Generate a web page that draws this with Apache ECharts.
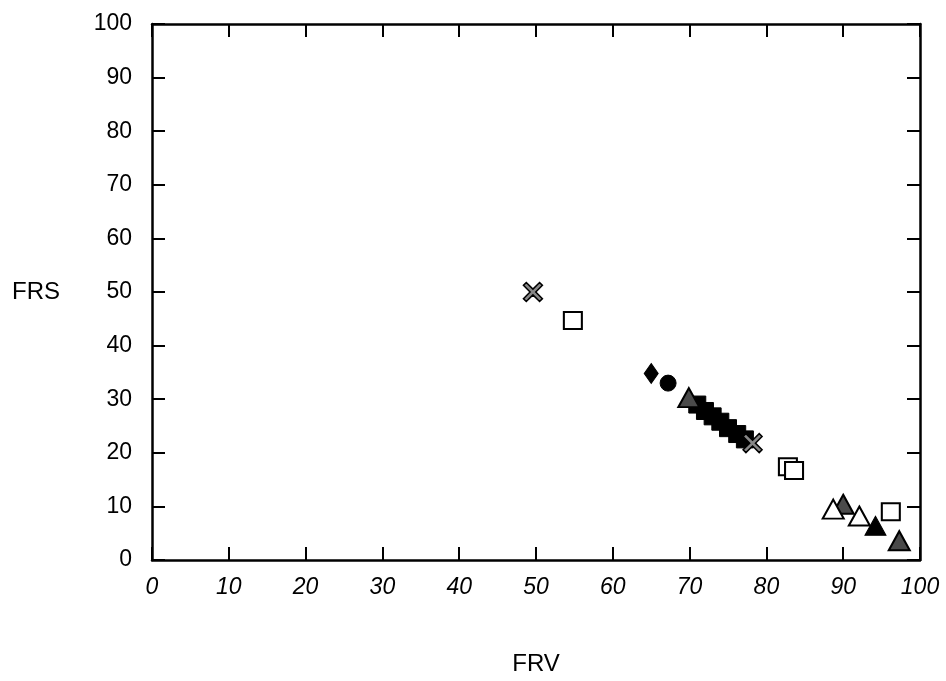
<!DOCTYPE html>
<html>
<head>
<meta charset="utf-8">
<script src="https://cdn.jsdelivr.net/npm/echarts@6/dist/echarts.min.js"></script>
<style>html,body{margin:0;padding:0;background:#fff}#c{width:946px;height:681px}</style>
</head>
<body>
<div id="c"></div>
<script>
// Data (FRV, FRS)
const crossPts = [[49.6, 50.0], [78.2, 21.8]];
const openSquarePts = [[54.8, 44.7], [82.8, 17.4], [83.6, 16.7], [96.2, 9.0]];
const filledDiamondPts = [[65.0, 34.8]];
const filledCirclePts = [[67.2, 33.0]];
const hatchedTrianglePts = [[69.9, 30.3], [90.0, 10.4], [97.3, 3.6]];
const filledSquarePts = [[71.0, 29.0], [72.0, 27.8], [73.0, 26.8], [74.0, 25.8], [75.0, 24.6], [76.2, 23.5], [77.2, 22.5]];
const openTrianglePts = [[88.7, 9.5], [92.1, 8.2]];
const filledTrianglePts = [[94.2, 6.4]];
const xTicks = [0, 10, 20, 30, 40, 50, 60, 70, 80, 90, 100];
const yTicks = [0, 10, 20, 30, 40, 50, 60, 70, 80, 90, 100];
const xName = 'FRV';
const yName = 'FRS';

const FONT = 'Liberation Sans, Arial, sans-serif';
const chart = echarts.init(document.getElementById('c'), null, {renderer: 'canvas'});

const axisCommon = {
  min: xTicks[0], max: xTicks[xTicks.length - 1], interval: 10,
  axisLine: {show: true, onZero: false, lineStyle: {color: '#000', width: 2.5}},
  axisTick: {show: true, inside: true, length: 13, lineStyle: {color: '#000', width: 2}},
  splitLine: {show: false}
};

const crossPath = 'path://M3,0 L10,7 L17,0 L20,3 L13,10 L20,17 L17,20 L10,13 L3,20 L0,17 L7,10 L0,3 Z';

function sc(name, data, symbol, size, fill, stroke, bw) {
  return {
    name, type: 'scatter', data, symbol, symbolSize: size,
    itemStyle: {color: fill, borderColor: stroke, borderWidth: bw, opacity: 1},
    emphasis: {disabled: true}, z: 3
  };
}

chart.setOption({
  animation: false,
  backgroundColor: '#fff',
  textStyle: {fontFamily: FONT, color: '#000'},
  grid: {left: 152, right: 26, top: 24, bottom: 118},
  xAxis: [
    Object.assign({}, axisCommon, {
      type: 'value', position: 'bottom',
      name: xName, nameLocation: 'middle', nameGap: 92,
      nameTextStyle: {fontSize: 24, color: '#000', fontFamily: FONT},
      axisLabel: {show: true, fontSize: 23, fontStyle: 'italic', color: '#000', margin: 16, fontFamily: FONT,
        formatter: v => xTicks.includes(v) ? String(v) : ''}
    }),
    Object.assign({}, axisCommon, {
      type: 'value', position: 'top', axisLabel: {show: false}
    })
  ],
  yAxis: [
    Object.assign({}, axisCommon, {
      type: 'value', position: 'left', min: yTicks[0], max: yTicks[yTicks.length - 1],
      name: yName, nameLocation: 'middle', nameRotate: 0, nameGap: 92,
      nameTextStyle: {fontSize: 24, color: '#000', fontFamily: FONT},
      axisLabel: {show: true, fontSize: 23, color: '#000', margin: 20, fontFamily: FONT,
        formatter: v => yTicks.includes(v) ? String(v) : ''}
    }),
    Object.assign({}, axisCommon, {
      type: 'value', position: 'right', min: yTicks[0], max: yTicks[yTicks.length - 1], axisLabel: {show: false}
    })
  ],
  series: [
    sc('filledSquare', filledSquarePts, 'rect', [17, 17], '#000', '#000', 1),
    sc('filledDiamond', filledDiamondPts, 'diamond', [14, 20], '#000', '#000', 1),
    sc('filledCircle', filledCirclePts, 'circle', 16, '#000', '#000', 1),
    sc('hatchedTriangle', hatchedTrianglePts, 'triangle', [21, 19], '#4a4a4a', '#000', 2),
    sc('openSquare', openSquarePts, 'rect', [18, 17], '#fff', '#000', 2),
    sc('openTriangle', openTrianglePts, 'triangle', [21, 19], '#fff', '#000', 2),
    sc('filledTriangle', filledTrianglePts, 'triangle', [21, 19], '#000', '#000', 1),
    sc('cross', crossPts, crossPath, 19, '#888', '#000', 1.5)
  ]
});
</script>
</body>
</html>
